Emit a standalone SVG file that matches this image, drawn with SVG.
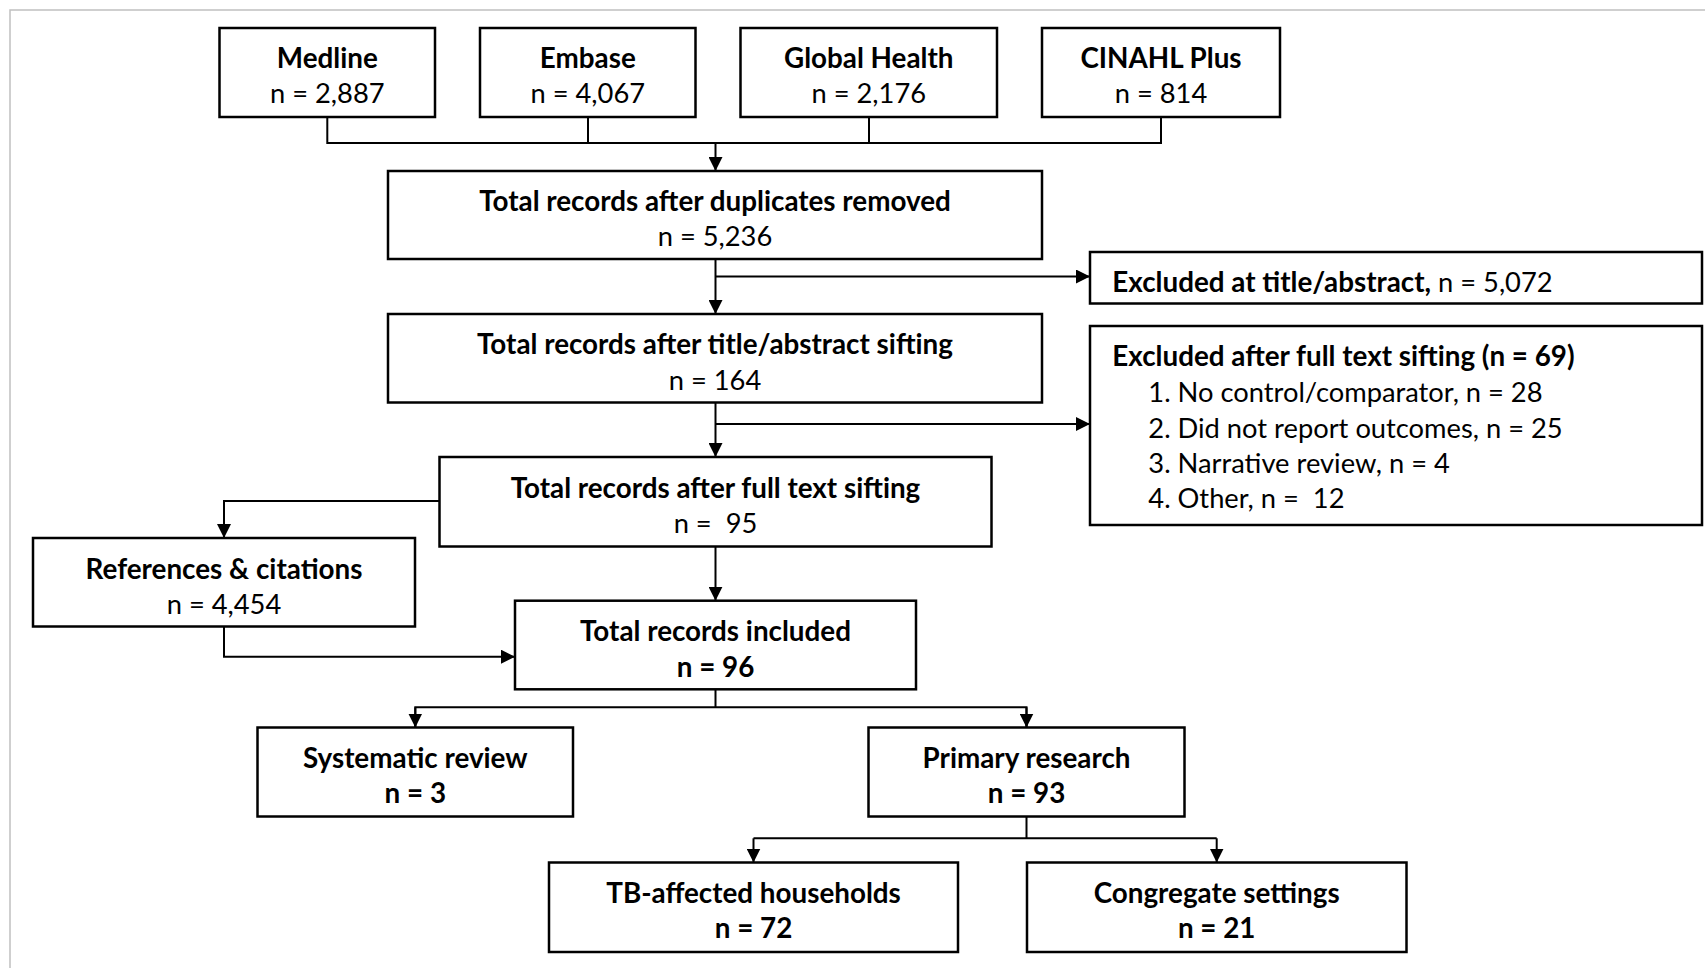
<svg xmlns="http://www.w3.org/2000/svg" width="1705" height="968" viewBox="0 0 1705 968">
<style>
.box{fill:#fff;stroke:#000;stroke-width:2.5}
.ln{fill:none;stroke:#000;stroke-width:2}
.t{font-family:Lato,"Open Sans",sans-serif;font-size:27.3px;fill:#000;text-anchor:middle}
.b{font-weight:bold;font-size:27.8px}
.l{text-anchor:start}
</style>
<defs>
<marker id="ah" markerUnits="userSpaceOnUse" markerWidth="14" markerHeight="14" viewBox="0 0 14 14" refX="14" refY="7" orient="auto">
<path d="M0,0 L14,7 L0,14 z" fill="#000"/>
</marker>
</defs>
<rect x="0" y="0" width="1705" height="968" fill="#fff"/>
<rect x="10" y="10" width="1720" height="990" fill="none" stroke="#c0c0c0" stroke-width="1.5"/>
<g id="connectors">
<path class="ln" d="M327.3,117 V143 H1161 V117 M588,117 V143 M869,117 V143"/>
<path class="ln" d="M715.5,143 V171" marker-end="url(#ah)"/>
<path class="ln" d="M715.5,259 V314" marker-end="url(#ah)"/>
<path class="ln" d="M715.5,276.5 H1090" marker-end="url(#ah)"/>
<path class="ln" d="M715.5,402.5 V457" marker-end="url(#ah)"/>
<path class="ln" d="M715.5,424 H1090" marker-end="url(#ah)"/>
<path class="ln" d="M439.5,501 H224 V538" marker-end="url(#ah)"/>
<path class="ln" d="M715.5,546.5 V600.7" marker-end="url(#ah)"/>
<path class="ln" d="M224,626.5 V656.7 H515" marker-end="url(#ah)"/>
<path class="ln" d="M715.5,689.3 V707.3 M415.3,727.5 V707.3 H1026.5 V727.5"/>
<path class="ln" d="M415.3,707.3 V727.5" marker-end="url(#ah)"/>
<path class="ln" d="M1026.5,707.3 V727.5" marker-end="url(#ah)"/>
<path class="ln" d="M1026.5,816.6 V838.3 M753.5,838.3 H1216.7"/>
<path class="ln" d="M753.5,838.3 V862.5" marker-end="url(#ah)"/>
<path class="ln" d="M1216.7,838.3 V862.5" marker-end="url(#ah)"/>
</g>
<g id="medline">
<rect class="box" x="219.5" y="28" width="215.5" height="89"/>
<text class="t b" x="327.3" y="68.2">Medline</text>
<text class="t" x="327.3" y="102.5">n = 2,887</text>
</g>
<g id="embase">
<rect class="box" x="480" y="28" width="215.5" height="89"/>
<text class="t b" x="587.8" y="68.2">Embase</text>
<text class="t" x="587.8" y="102.5">n = 4,067</text>
</g>
<g id="globalhealth">
<rect class="box" x="740.5" y="28" width="256.5" height="89"/>
<text class="t b" x="868.8" y="68.2">Global Health</text>
<text class="t" x="868.8" y="102.5">n = 2,176</text>
</g>
<g id="cinahl">
<rect class="box" x="1042" y="28" width="238" height="89"/>
<text class="t b" x="1161" y="68.2">CINAHL Plus</text>
<text class="t" x="1161" y="102.5">n = 814</text>
</g>
<g id="duplicates">
<rect class="box" x="388" y="171" width="654" height="88"/>
<text class="t b" x="715" y="211.2">Total records after duplicates removed</text>
<text class="t" x="715" y="246">n = 5,236</text>
</g>
<g id="excl-title">
<rect class="box" x="1090" y="252" width="612" height="51.5"/>
<text class="t l" x="1112.3" y="292"><tspan font-weight="bold" font-size="27.8px">Excluded at title/abstract,</tspan> n = 5,072</text>
</g>
<g id="title-abstract">
<rect class="box" x="388" y="314" width="654" height="88.5"/>
<text class="t b" x="715" y="354.2">Total records after title/abstract sifting</text>
<text class="t" x="715" y="389.8">n = 164</text>
</g>
<g id="excl-full">
<rect class="box" x="1090" y="326" width="612" height="199"/>
<text class="t l b" x="1112.3" y="365.5">Excluded after full text sifting (n = 69)</text>
<text class="t l" x="1148.3" y="401.5">1. No control/comparator, n = 28</text>
<text class="t l" x="1148.3" y="437.5">2. Did not report outcomes, n = 25</text>
<text class="t l" x="1148.3" y="472.5">3. Narrative review, n = 4</text>
<text class="t l" x="1148.3" y="508.2" xml:space="preserve">4. Other, n =  12</text>
</g>
<g id="full-text">
<rect class="box" x="439.5" y="457" width="552" height="89.5"/>
<text class="t b" x="715.5" y="497.5">Total records after full text sifting</text>
<text class="t" x="715.5" y="532.5" xml:space="preserve">n =  95</text>
</g>
<g id="references">
<rect class="box" x="33" y="538" width="382" height="88.5"/>
<text class="t b" x="224" y="578.5">References &amp; citations</text>
<text class="t" x="224" y="613.5">n = 4,454</text>
</g>
<g id="included">
<rect class="box" x="515" y="600.7" width="401" height="88.6"/>
<text class="t b" x="715.5" y="641">Total records included</text>
<text class="t b" x="715.5" y="676.5">n = 96</text>
</g>
<g id="systematic">
<rect class="box" x="257.5" y="727.5" width="315.5" height="89"/>
<text class="t b" x="415.3" y="767.5">Systematic review</text>
<text class="t b" x="415.3" y="802.5">n = 3</text>
</g>
<g id="primary">
<rect class="box" x="868.5" y="727.5" width="316" height="89"/>
<text class="t b" x="1026.5" y="767.5">Primary research</text>
<text class="t b" x="1026.5" y="802.5">n = 93</text>
</g>
<g id="households">
<rect class="box" x="549" y="862.5" width="409" height="89.5"/>
<text class="t b" x="753.5" y="902.5">TB-affected households</text>
<text class="t b" x="753.5" y="937.5">n = 72</text>
</g>
<g id="congregate">
<rect class="box" x="1027" y="862.5" width="379.5" height="89.5"/>
<text class="t b" x="1216.7" y="902.5">Congregate settings</text>
<text class="t b" x="1216.7" y="937.5">n = 21</text>
</g>
</svg>
